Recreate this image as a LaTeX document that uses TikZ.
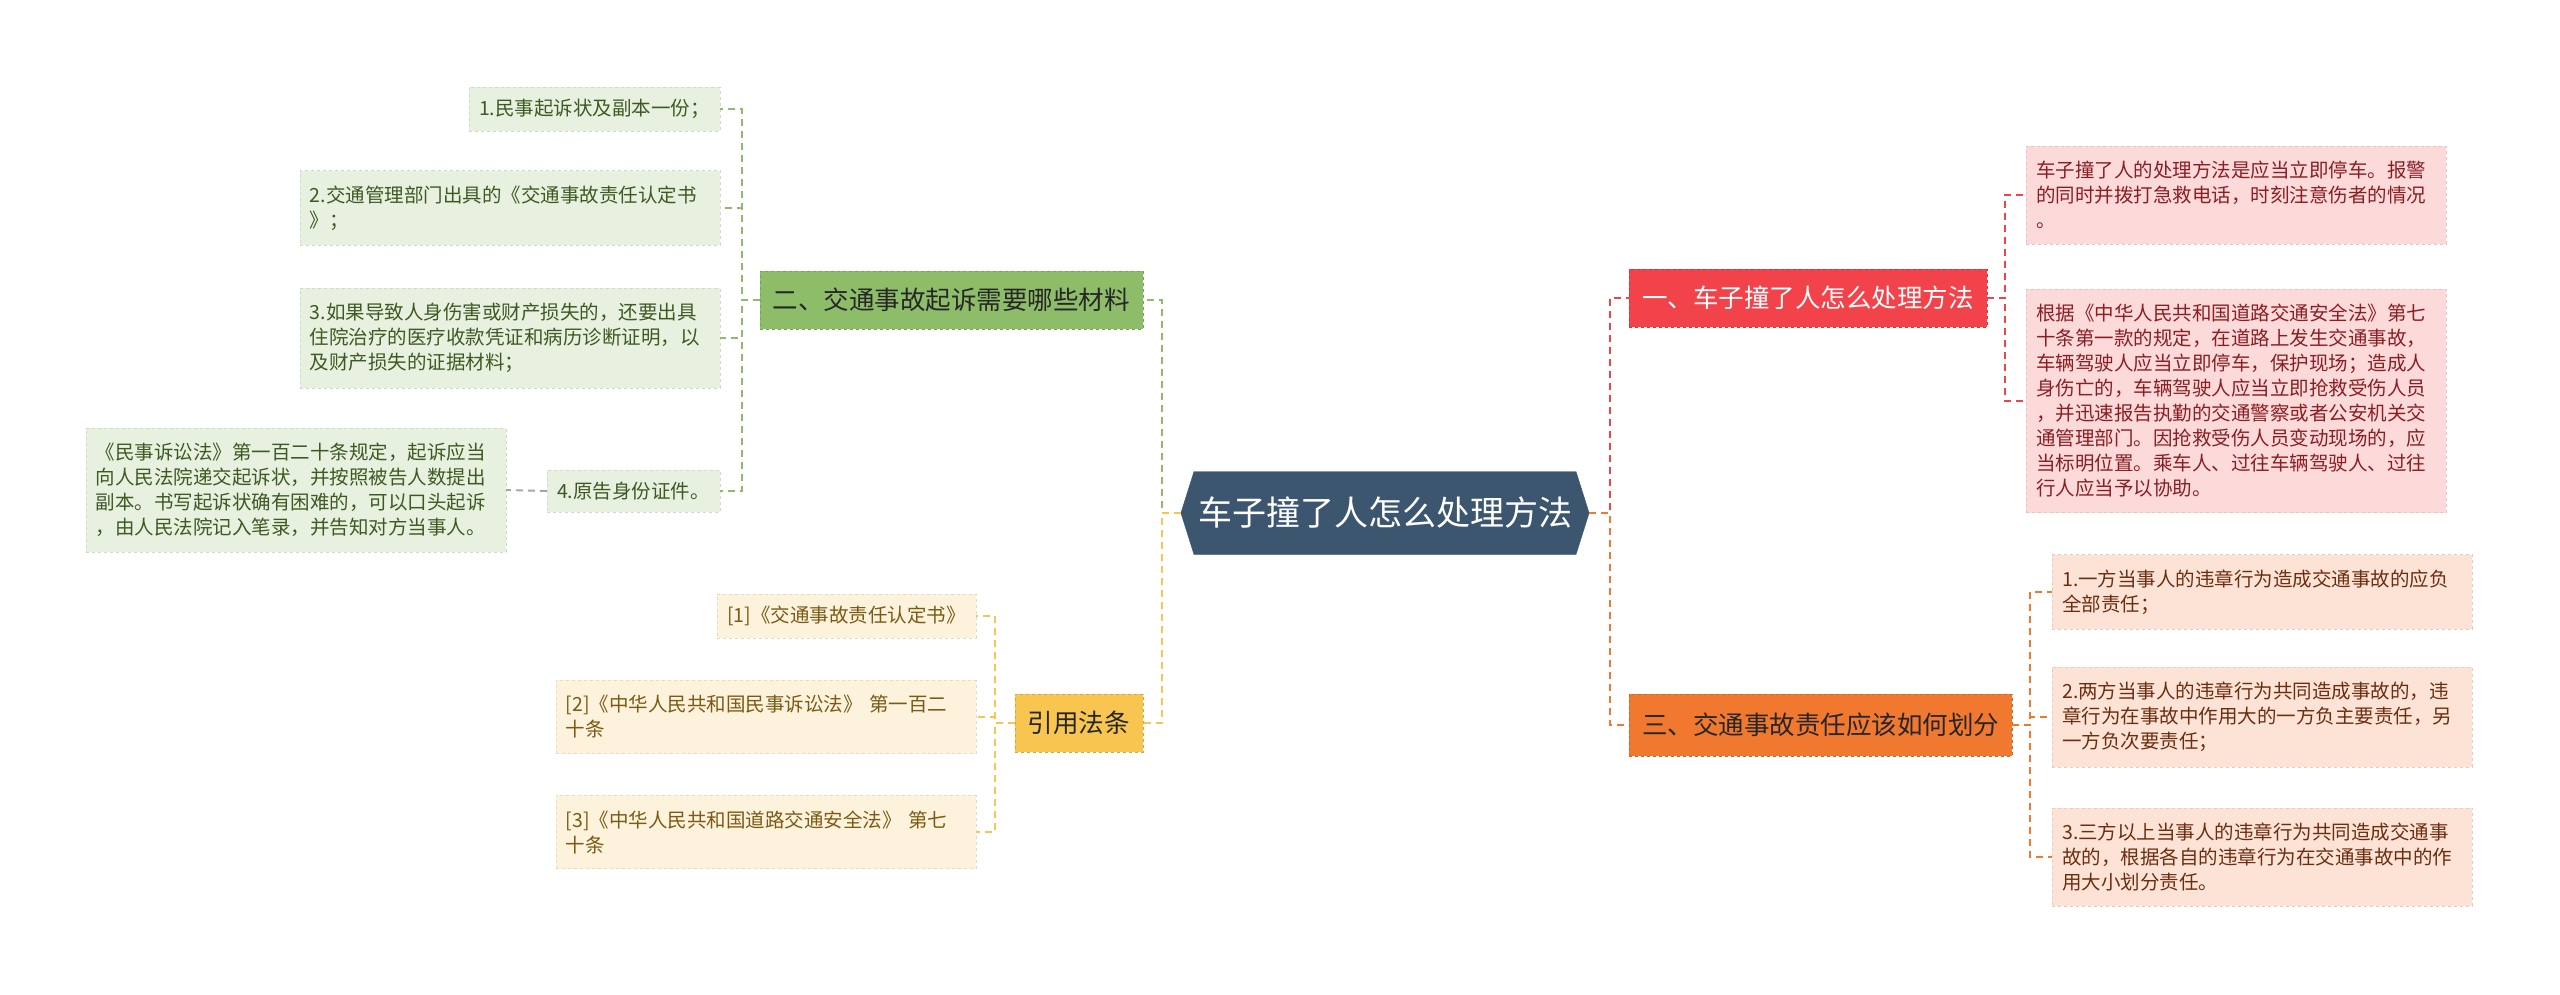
\documentclass[tikz,border=0pt]{standalone}
\usepackage{fontspec}
\setmainfont{Noto Sans CJK SC}
\usepackage{tikz}
\usetikzlibrary{shapes.symbols}

\definecolor{rootblue}{HTML}{3C5670}
\definecolor{gmain}{HTML}{8EBD6A}
\definecolor{gfill}{HTML}{E8F1E0}
\definecolor{gtext}{HTML}{3D5A22}
\definecolor{ymain}{HTML}{F7C550}
\definecolor{yfill}{HTML}{FDF2DC}
\definecolor{ytext}{HTML}{7A5A14}
\definecolor{rmain}{HTML}{F2434A}
\definecolor{rfill}{HTML}{FDDADA}
\definecolor{rtext}{HTML}{8B1E22}
\definecolor{omain}{HTML}{F0782F}
\definecolor{ofill}{HTML}{FDE3D5}
\definecolor{otext}{HTML}{6B2E10}

\begin{document}
\begin{tikzpicture}[x=1pt,y=-1pt]
    % 设置节点样式
    \tikzstyle{leaf}=[rectangle,align=left,inner xsep=10pt,inner ysep=15pt,font=\fontsize{19.5}{25}\selectfont,dashed,thin]
    \tikzstyle{wide}=[text width=400pt]
    \tikzstyle{branch}=[rectangle,inner xsep=13pt,minimum height=58pt,font=\fontsize{25.5}{30}\selectfont,dashed,thin]
    \tikzstyle{gleaf}=[leaf,fill=gfill,draw=gfill!90!black,text=gtext]
    \tikzstyle{yleaf}=[leaf,fill=yfill,draw=yfill!90!black,text=ytext]
    \tikzstyle{rleaf}=[leaf,fill=rfill,draw=rfill!90!black,text=rtext]
    \tikzstyle{oleaf}=[leaf,fill=ofill,draw=ofill!90!black,text=otext]
    \tikzstyle{link}=[line width=1.9pt,dash pattern=on 7pt off 5pt]

    % 画布
    \fill[white] (0,0) rectangle (2560,995);
    \useasboundingbox (0,0) rectangle (2560,995);

    % 定义节点
    \node[signal,signal to=west and east,signal pointer angle=145,fill=rootblue,draw=rootblue,
          text=white,font=\fontsize{34}{40}\selectfont,minimum height=83pt,inner xsep=4pt] (root) at (1385,513) {车子撞了人怎么处理方法};

    % 左侧：二
    \node[branch,fill=gmain,draw=gmain!85!black,text=black!85,anchor=east] (cail) at (1143,300) {二、交通事故起诉需要哪些材料};
    \node[gleaf,anchor=east,inner ysep=12pt] (cail1) at (720,109) {1.民事起诉状及副本一份；};
    \node[gleaf,wide,anchor=east] (cail2) at (720,208) {2.交通管理部门出具的《交通事故责任认定书\\》；};
    \node[gleaf,wide,anchor=east] (cail3) at (720,338) {3.如果导致人身伤害或财产损失的，还要出具\\住院治疗的医疗收款凭证和病历诊断证明，以\\及财产损失的证据材料；};
    \node[gleaf,anchor=east,inner ysep=12pt] (cail4) at (720,491) {4.原告身份证件。};
    \node[gleaf,wide,anchor=east] (cail4a) at (506,490) {《民事诉讼法》第一百二十条规定，起诉应当\\向人民法院递交起诉状，并按照被告人数提出\\副本。书写起诉状确有困难的，可以口头起诉\\，由人民法院记入笔录，并告知对方当事人。};

    % 左侧：引用法条
    \node[branch,fill=ymain,draw=ymain!85!black,text=black!85,anchor=east] (fatiao) at (1143,723) {引用法条};
    \node[yleaf,anchor=east,inner ysep=12pt] (fatiao1) at (976,616) {[1]《交通事故责任认定书》};
    \node[yleaf,wide,anchor=east] (fatiao2) at (976,717) {[2]《中华人民共和国民事诉讼法》 第一百二\\十条};
    \node[yleaf,wide,anchor=east] (fatiao3) at (976,832) {[3]《中华人民共和国道路交通安全法》 第七\\十条};

    % 右侧：一
    \node[branch,fill=rmain,draw=rmain!85!black,text=white,anchor=west] (chuli) at (1629,298) {一、车子撞了人怎么处理方法};
    \node[rleaf,wide,anchor=west] (chuli1) at (2026,195) {车子撞了人的处理方法是应当立即停车。报警\\的同时并拨打急救电话，时刻注意伤者的情况\\。};
    \node[rleaf,wide,anchor=west] (chuli2) at (2026,401) {根据《中华人民共和国道路交通安全法》第七\\十条第一款的规定，在道路上发生交通事故，\\车辆驾驶人应当立即停车，保护现场；造成人\\身伤亡的，车辆驾驶人应当立即抢救受伤人员\\，并迅速报告执勤的交通警察或者公安机关交\\通管理部门。因抢救受伤人员变动现场的，应\\当标明位置。乘车人、过往车辆驾驶人、过往\\行人应当予以协助。};

    % 右侧：三
    \node[branch,fill=omain,draw=omain!85!black,text=black!85,anchor=west,minimum height=62pt] (huafen) at (1629,725) {三、交通事故责任应该如何划分};
    \node[oleaf,wide,anchor=west] (huafen1) at (2052,592) {1.一方当事人的违章行为造成交通事故的应负\\全部责任；};
    \node[oleaf,wide,anchor=west] (huafen2) at (2052,717) {2.两方当事人的违章行为共同造成事故的，违\\章行为在事故中作用大的一方负主要责任，另\\一方负次要责任；};
    \node[oleaf,wide,anchor=west] (huafen3) at (2052,857) {3.三方以上当事人的违章行为共同造成交通事\\故的，根据各自的违章行为在交通事故中的作\\用大小划分责任。};

    % 定义路径
    \draw[link,gmain] (root.west) -- ++(-19,0) |- (cail.east);
    \draw[link,ymain] (root.west) -- ++(-19,0) |- (fatiao.east);
    \draw[link,rmain] (root.east) -- ++(21,0) |- (chuli.west);
    \draw[link,omain] (root.east) -- ++(21,0) |- (huafen.west);

    \foreach \k in {1,2,3,4}
        \draw[link,gmain] (cail.west) -- ++(-18,0) |- (cail\k.east);
    \draw[link,black!35] (cail4.west) -- (cail4a.east);
    \foreach \k in {1,2,3}
        \draw[link,ymain] (fatiao.west) -- ++(-20,0) |- (fatiao\k.east);
    \foreach \k in {1,2}
        \draw[link,rmain] (chuli.east) -- ++(18,0) |- (chuli\k.west);
    \foreach \k in {1,2,3}
        \draw[link,omain] (huafen.east) -- ++(18,0) |- (huafen\k.west);
\end{tikzpicture}
\end{document}
